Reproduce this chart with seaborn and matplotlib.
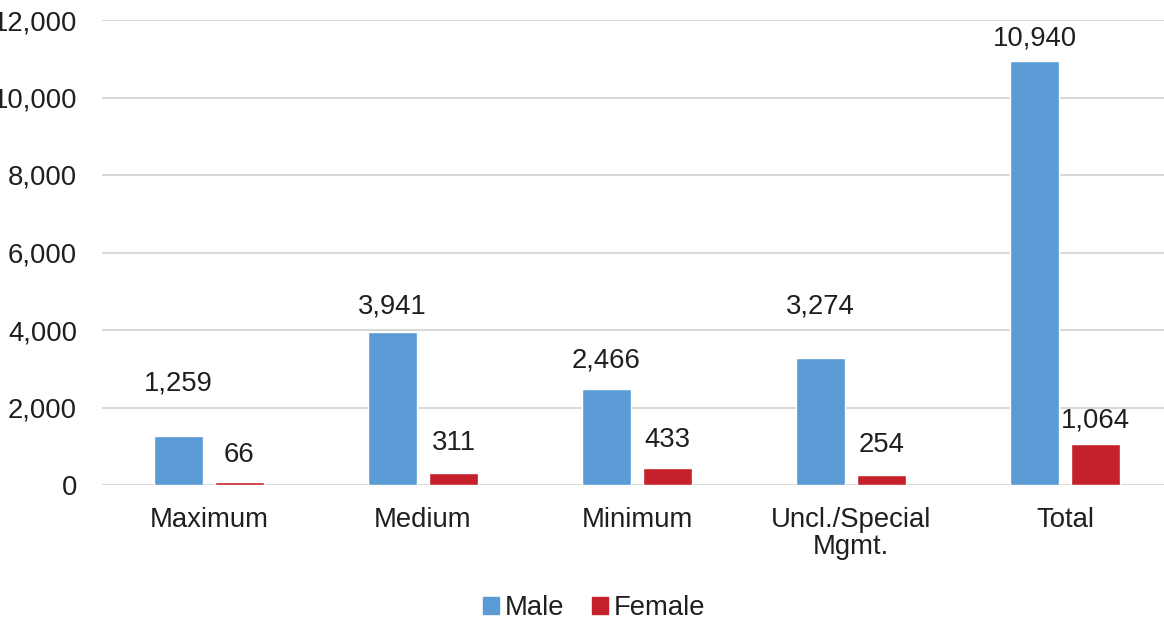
import pandas as pd
import seaborn as sns
from matplotlib import pyplot as plt
import matplotlib.ticker as ticker

categories = ["Maximum", "Medium", "Minimum", "Uncl./Special\nMgmt.", "Total"]
male = [1259, 3941, 2466, 3274, 10940]
female = [66, 311, 433, 254, 1064]

# vertical offset of each value label above its bar, in pixels (Excel placement)
male_label_px = [53, 26, 29, 52, 23]
female_label_px = [27, 30, 28, 30, 23]

df = pd.DataFrame({
    "Category": categories * 2,
    "Count": male + female,
    "Sex": ["Male"] * len(male) + ["Female"] * len(female),
})

sns.set_theme(style="white")
plt.rcParams["font.family"] = ["Liberation Sans", "DejaVu Sans"]

TXT = "#1F1F1F"
FS = 19.8

fig = plt.figure(figsize=(11.64, 6.2), dpi=100)
ax = fig.add_axes([102 / 1164, 1 - 485 / 620, 1070 / 1164, 465 / 620])

sns.barplot(data=df, x="Category", y="Count", hue="Sex", order=categories,
            palette={"Male": "#5B9BD5", "Female": "#C4212B"},
            width=0.57, gap=0.21, ax=ax, legend=False, saturation=1)

ax.set_ylim(0, 12000)
ax.set_xlim(-0.5, len(categories) - 0.5)
ax.yaxis.set_major_locator(ticker.MultipleLocator(2000))
ax.yaxis.set_major_formatter(ticker.FuncFormatter(lambda v, _: f"{int(v):,}"))
ax.grid(axis="y", color="#D9D9D9", linewidth=1.5)
ax.set_axisbelow(True)
for s in ax.spines.values():
    s.set_visible(False)
ax.tick_params(axis="y", labelsize=FS, pad=18, length=0, labelcolor=TXT)
ax.tick_params(axis="x", labelsize=FS, pad=16, length=0, labelcolor=TXT)
for t in ax.get_xticklabels():
    t.set_linespacing(1.05)
ax.set_xlabel("")
ax.set_ylabel("")

px2pt = 72 / fig.dpi
for cont, vals, offs in zip(ax.containers, [male, female], [male_label_px, female_label_px]):
    for bar, v, off in zip(cont, vals, offs):
        ax.annotate(f"{v:,}", (bar.get_x() + bar.get_width() / 2, bar.get_height()),
                    xytext=(0, off * px2pt), textcoords="offset points",
                    ha="center", va="center", fontsize=FS, color=TXT)

handles = [plt.Rectangle((0, 0), 1, 1, color="#5B9BD5"),
           plt.Rectangle((0, 0), 1, 1, color="#C4212B")]
fig.legend(handles, ["Male", "Female"], loc="center",
           bbox_to_anchor=(594 / 1164, 1 - 608 / 620), ncol=2, frameon=False,
           fontsize=FS, handlelength=0.6, handleheight=0.6, handletextpad=0.2,
           columnspacing=1.0, labelcolor=TXT)

fig.savefig("out.png", dpi=100)
